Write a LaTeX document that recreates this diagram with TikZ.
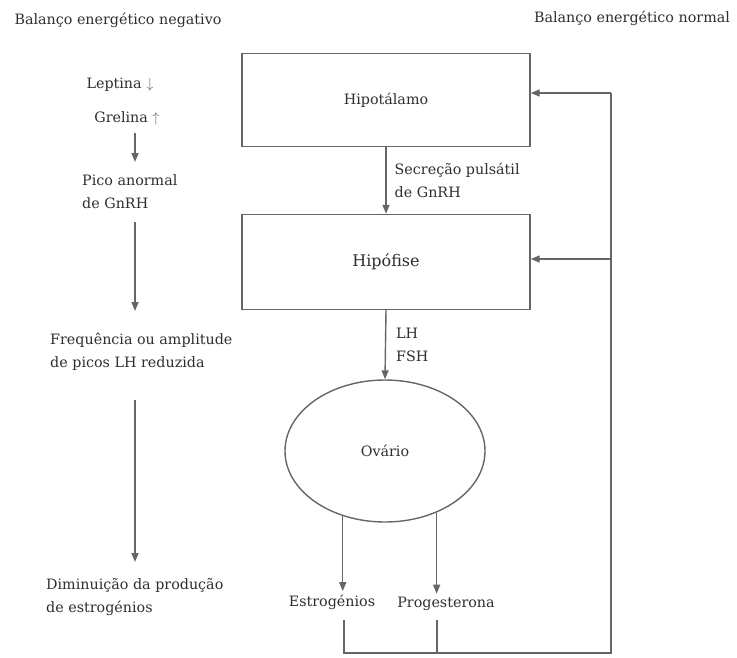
\documentclass[tikz,border=0pt]{standalone}
\usepackage{fontspec}
\setmainfont{DejaVu Serif}
\usepackage{amssymb}
\usepackage{xcolor}
\usetikzlibrary{arrows.meta,shapes.geometric}

\definecolor{tinta}{HTML}{2E2E2E}
\definecolor{linha}{HTML}{666666}

\begin{document}
\begin{tikzpicture}[x=1pt,y=-1pt,
        font=\fontsize{14.3}{23}\selectfont, text=tinta,
        caixa/.style={draw=linha, line width=1.4pt, minimum width=288pt, minimum height=93pt},
        seta/.style={draw=linha, line width=1.4pt, -{Triangle[length=9pt,width=7pt]}},
        traco/.style={draw=linha, line width=1.4pt},
        txt/.style={align=left, inner sep=2pt}]
            \useasboundingbox (0,0) rectangle (737,657);

            % Titoli
            \node (neg) at (118,20) {Balanço energético negativo};
            \node (norm) at (632,18) {Balanço energético normal};

            % Colonna sinistra
            \node (lep) at (120,85) {Leptina \textcolor{linha}{$\downarrow$}};
            \node (gre) at (127,118) {Grelina \textcolor{linha}{$\uparrow$}};
            \node[txt, anchor=north west] (pico) at (80,172) {Pico anormal\\de GnRH};
            \node[txt, anchor=north west] (freq) at (48,331) {Frequência ou amplitude\\de picos LH reduzida};
            \node[txt, anchor=north west] (dimi) at (44,576) {Diminuição da produção\\de estrogénios};
            \coordinate (a1) at (135,133);
            \coordinate (b1) at (135,162);
            \coordinate (a2) at (135,222);
            \coordinate (b2) at (135,311);
            \coordinate (a3) at (135,400);
            \coordinate (b3) at (135,562);
            \draw[seta] (a1) -- (b1);
            \draw[seta] (a2) -- (b2);
            \draw[seta] (a3) -- (b3);

            % Eixo central
            \node[caixa] (hipot) at (386,100) {Hipotálamo};
            \node[caixa, minimum height=95pt] (hipof) at (386,262) {\fontsize{16}{18}\selectfont Hipófise};
            \node[ellipse, draw=linha, line width=1.4pt, minimum width=200pt, minimum height=142pt] (ovario) at (385,451) {Ovário};
            \node (estr) at (332,602) {Estrogénios};
            \node (prog) at (446,604) {Progesterona};

            \draw[seta] (hipot.south) -- (hipof.north)
                node[txt, midway, right, anchor=west, xshift=6pt] (gnrh) {Secreção pulsátil\\de GnRH};
            \draw[seta] (hipof.south) -- (ovario.north)
                node[txt, midway, right, anchor=west, xshift=8pt] (lhfsh) {LH\\FSH};
            \draw[seta] (ovario.237) -- (ovario.237 |- estr.north);
            \draw[seta] (ovario.310) -- (ovario.310 |- prog.north);

            % Retroalimentação
            \coordinate (e1) at (344,620);
            \coordinate (e2) at (344,653);
            \coordinate (p1) at (437,620);
            \coordinate (p2) at (437,653);
            \coordinate (canto) at (611,653);
            \coordinate (topo) at (611,93);
            \coordinate (meio) at (611,259);
            \draw[traco] (e1) -- (e2) -- (canto) -- (topo);
            \draw[traco] (p1) -- (p2);
            \draw[seta] (topo) -- (topo -| hipot.east);
            \draw[seta] (meio) -- (meio -| hipof.east);
        \end{tikzpicture}
\end{document}
